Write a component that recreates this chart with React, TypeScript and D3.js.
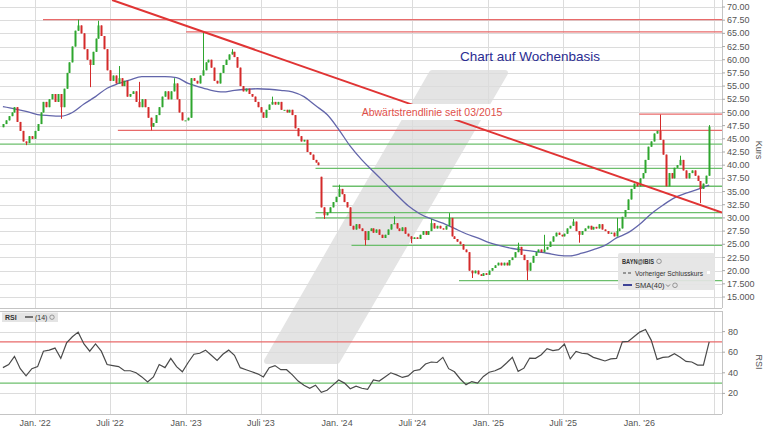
import { useEffect, useRef } from 'react';
import * as d3 from 'd3';

// Wochenkerzen BAYN, erste Kerze 15.10.2021
const firstWeek = new Date(2021, 9, 15);

const closes = [
  47.8, 48.5, 49.3, 50.0, 51.0, 48.2, 46.5, 44.5, 44.2, 45.5,
  45.0, 46.5, 47.8, 50.0, 52.0, 51.0, 52.5, 53.5, 52.0, 53.5,
  51.0, 54.5, 57.5, 59.5, 62.5, 65.5, 66.5, 65.0, 62.0, 60.0,
  59.0, 61.5, 64.0, 66.5, 64.5, 62.0, 58.0, 56.0, 57.0, 55.5,
  56.5, 55.0, 56.0, 53.0, 53.5, 54.0, 52.0, 51.0, 52.5, 51.0,
  49.0, 47.3, 48.0, 49.5, 51.0, 53.0, 54.0, 52.5, 54.0, 55.5,
  52.5, 50.0, 48.5, 48.5, 49.0, 56.5, 56.0, 55.5, 57.0, 58.0,
  59.5, 60.0, 58.5, 56.0, 55.5, 57.5, 59.0, 60.0, 61.0, 61.5,
  60.5, 58.5, 55.0, 54.0, 54.5, 53.5, 53.0, 52.0, 51.0, 50.0,
  49.0, 50.5, 51.5, 52.0, 51.5, 52.0, 50.5, 50.5, 50.0, 50.5,
  49.5, 47.0, 45.5, 44.5, 44.8, 42.5, 42.0, 41.0, 40.5, 40.0,
  32.0, 30.5, 31.0, 32.0, 33.0, 34.0, 35.5, 34.5, 33.0, 32.0,
  28.5, 27.8, 28.8, 28.0, 27.5, 25.8, 27.5, 28.0, 27.2, 27.8,
  26.8, 26.2, 26.8, 27.8, 28.8, 29.0, 28.0, 27.5, 28.2, 27.0,
  26.5, 26.0, 26.3, 26.0, 26.8, 27.5, 26.8, 27.5, 29.0, 28.0,
  28.5, 28.0, 27.8, 28.5, 30.0, 26.5, 26.0, 25.5, 25.0, 24.0,
  23.5, 20.0, 19.5, 20.0, 19.3, 19.0, 19.5, 19.2, 20.0, 20.5,
  21.0, 21.5, 21.0, 21.5, 21.0, 22.0, 22.5, 23.5, 24.5, 23.0,
  22.0, 20.0, 21.5, 22.8, 23.5, 24.0, 23.5, 24.0, 24.5, 25.5,
  26.5, 27.2, 26.8, 26.5, 27.0, 28.0, 28.5, 29.3, 27.5, 26.8,
  27.5, 28.0, 28.5, 27.8, 28.3, 28.0, 28.8, 27.8, 27.5, 27.0,
  27.2, 26.5, 27.5, 28.0, 30.2, 31.5, 33.5, 35.5, 36.5, 36.0,
  37.5, 38.5, 41.0, 43.5, 44.5, 46.0, 46.5, 44.8, 42.0, 36.0,
  38.5, 37.5, 39.5, 40.0, 41.0, 39.0, 37.5, 38.5, 39.0, 38.0,
  37.0, 35.5, 36.5, 38.0, 47.3,
];

// Eröffnungskurse mit Kurslücke (sonst Vorwochenschluss)
const openOverrides: Record<number, number> = { 0: 47.2, 110: 37.8 };

// auffällige Dochte
const wickHighs: Record<number, number> = {
  26: 67.6, 33: 67.4, 40: 58.8, 47: 55.8, 59: 56.5, 69: 65.3, 79: 62.0,
  93: 53.0, 116: 36.3, 135: 30.3, 148: 29.8, 154: 30.9, 178: 25.3,
  187: 26.8, 197: 29.8, 212: 30.0, 227: 49.6, 234: 41.8, 244: 47.6,
};
const wickLows: Record<number, number> = {
  8: 43.8, 20: 48.8, 30: 54.8, 51: 46.6, 111: 29.8, 125: 24.8, 141: 25.2,
  162: 18.6, 181: 18.2, 199: 25.3, 241: 32.8,
};

const sma40 = [
  51.1, 50.7, 50.2, 49.6, 49.4, 49.3, 50.0, 51.6, 53.0, 54.6,
  55.5, 56.2, 56.8, 56.8, 56.8, 56.6, 55.5, 54.8, 54.2, 53.9,
  54.2, 54.4, 54.5, 54.4, 54.2, 53.9, 53.0, 51.3, 49.6, 46.8,
  43.6, 41.0, 38.8, 36.6, 34.4, 32.3, 30.8, 29.8, 29.0, 28.0,
  27.0, 26.2, 25.3, 24.7, 24.2, 23.9, 23.6, 23.3, 22.9, 22.8,
  23.3, 24.0, 24.8, 26.2, 27.2, 28.8, 30.8, 32.4, 33.8, 34.7,
  35.4, 36.2,
];

const rsi14 = [
  45, 48, 56, 44, 37, 44, 46, 61, 62, 64,
  54, 69, 75, 79.5, 68, 61, 68, 61, 48, 47,
  46, 42, 42, 40, 36, 31, 36, 48, 45, 54,
  46, 41, 50, 58, 59, 62, 57, 52, 58, 62,
  57, 45, 43, 41, 39, 36, 45, 47, 43, 43,
  38, 32, 28, 25, 28, 21, 23, 28, 33, 30,
  24.5, 27, 25, 24, 33, 32, 36, 40, 38, 35.5,
  37, 42, 43, 48.5, 50.5, 50, 55, 44, 41, 34,
  28.5, 31.5, 30, 36.5, 40.5, 42, 44.5, 49.5, 55, 41.4,
  44.5, 54.3, 54, 57.5, 63.5, 61.5, 62.5, 68, 53.5, 60.7,
  59, 58.3, 55, 53.3, 51.5, 53.5, 54, 70, 70.5, 75,
  79.5, 82, 71.5, 53, 55, 55.5, 58.5, 55, 51, 50.5,
  47.5, 47.5, 70,
];

const priceTicks = [
  15, 17.5, 20, 22.5, 25, 27.5, 30, 32.5, 35, 37.5, 40, 42.5,
  45, 47.5, 50, 52.5, 55, 57.5, 60, 62.5, 65, 67.5, 70,
];
const priceTickLabels = [
  '15.000', '17.500', '20.00', '22.50', '25.00', '27.50', '30.00', '32.50',
  '35.00', '37.50', '40.00', '42.50', '45.00', '47.50', '50.00', '52.50',
  '55.00', '57.50', '60.00', '62.50', '65.00', '67.50', '70.00',
];
const rsiTicks = [20, 40, 60, 80];

const timeTicks = [
  '2022-01-01', '2022-07-01', '2023-01-01', '2023-07-01', '2024-01-01',
  '2024-07-01', '2025-01-01', '2025-07-01', '2026-01-01', '2026-07-01',
];
const timeTickLabels = [
  "Jan. '22", "Juli '22", "Jan. '23", "Juli '23", "Jan. '24",
  "Juli '24", "Jan. '25", "Juli '25", "Jan. '26", '',
];

const redLevels = [
  { from: '2022-01-20', value: 67.6 },
  { from: '2023-01-01', value: 65.3 },
  { from: '2022-07-20', value: 46.6 },
  { from: '2026-01-01', value: 49.7 },
];
const greenLevels = [
  { from: '2021-10-08', value: 44.0 },
  { from: '2023-11-10', value: 39.4 },
  { from: '2023-12-21', value: 36.0 },
  { from: '2023-11-10', value: 31.0 },
  { from: '2023-11-10', value: 30.0 },
  { from: '2024-02-05', value: 24.8 },
  { from: '2024-10-22', value: 18.1 },
];
const trendAnchors = [
  { date: '2022-07-06', value: 71.33 },
  { date: '2026-07-20', value: 31.0 },
];

const FONT = 'Liberation Sans, Arial, sans-serif';

export default function App() {
  const svgRef = useRef<SVGSVGElement>(null);

  useEffect(() => {
    if (!svgRef.current) return;
    const svg = d3.select(svgRef.current);
    svg.selectAll('*').remove();

    const parse = d3.timeParse('%Y-%m-%d');
    const plotRight = 722;
    const x = d3
      .scaleTime()
      .domain([new Date(2021, 9, 8), new Date(2026, 6, 20)])
      .range([0, plotRight]);
    const y = d3.scaleLinear().domain([15, 70]).range([297, 7]);
    const yr = d3.scaleLinear().domain([0, 100]).range([414, 311]);

    const dates = closes.map((_, i) => d3.timeDay.offset(firstWeek, 7 * i));

    svg.append('rect').attr('width', 768).attr('height', 432).attr('fill', '#fff');

    const defs = svg.append('defs');
    defs.append('clipPath').attr('id', 'clipP')
      .append('rect').attr('x', 0).attr('y', 0).attr('width', plotRight).attr('height', 308);
    defs.append('clipPath').attr('id', 'clipR')
      .append('rect').attr('x', 0).attr('y', 311).attr('width', plotRight).attr('height', 103);

    // Wasserzeichen
    svg.append('path')
      .attr('d', 'M432,73 L505,73 L337,361 L267,361 Z')
      .attr('fill', '#e4e4e4')
      .attr('stroke', '#e4e4e4')
      .attr('stroke-width', 6)
      .attr('stroke-linejoin', 'round');

    // Gitter
    const grid = svg.append('g').attr('stroke', '#dcdcdc').attr('stroke-width', 1)
      .attr('shape-rendering', 'crispEdges');
    priceTicks.forEach((v) => {
      grid.append('line').attr('x1', 0).attr('x2', plotRight)
        .attr('y1', Math.round(y(v)) + 0.5).attr('y2', Math.round(y(v)) + 0.5);
    });
    rsiTicks.forEach((v) => {
      grid.append('line').attr('x1', 0).attr('x2', plotRight)
        .attr('y1', Math.round(yr(v)) + 0.5).attr('y2', Math.round(yr(v)) + 0.5);
    });
    timeTicks.forEach((t) => {
      const xx = Math.round(x(parse(t)!)) + 0.5;
      grid.append('line').attr('x1', xx).attr('x2', xx).attr('y1', 0).attr('y2', 308);
      grid.append('line').attr('x1', xx).attr('x2', xx).attr('y1', 311).attr('y2', 414);
    });

    // Rahmen
    const frame = svg.append('g').attr('stroke', '#c4c4c4').attr('shape-rendering', 'crispEdges');
    frame.append('line').attr('x1', 0).attr('x2', plotRight).attr('y1', 308.5).attr('y2', 308.5);
    frame.append('line').attr('x1', 0).attr('x2', plotRight).attr('y1', 311.5).attr('y2', 311.5);
    frame.append('line').attr('x1', 0).attr('x2', plotRight).attr('y1', 414.5).attr('y2', 414.5);
    frame.append('line').attr('x1', plotRight + 0.5).attr('x2', plotRight + 0.5).attr('y1', 0).attr('y2', 308);
    frame.append('line').attr('x1', plotRight + 0.5).attr('x2', plotRight + 0.5).attr('y1', 311).attr('y2', 414);

    const pg = svg.append('g').attr('clip-path', 'url(#clipP)');

    // Unterstützungen / Widerstände
    greenLevels.forEach((l) => {
      pg.append('line')
        .attr('x1', x(parse(l.from)!)).attr('x2', plotRight)
        .attr('y1', y(l.value)).attr('y2', y(l.value))
        .attr('stroke', '#6cbf6c').attr('stroke-width', 1.3);
    });
    redLevels.forEach((l) => {
      pg.append('line')
        .attr('x1', x(parse(l.from)!)).attr('x2', plotRight)
        .attr('y1', y(l.value)).attr('y2', y(l.value))
        .attr('stroke', '#e86a6a').attr('stroke-width', 1.3);
    });

    // SMA(40)
    const smaPts = sma40.map((v, k) => [x(dates[k * 4]), y(v)] as [number, number]);
    pg.append('path')
      .attr('d', d3.line().curve(d3.curveMonotoneX)(smaPts))
      .attr('fill', 'none')
      .attr('stroke', '#6265aa')
      .attr('stroke-width', 1.3);

    // Kerzen
    const candles = closes.map((c, i) => {
      const o = openOverrides[i] ?? closes[i - 1];
      const hi = Math.max(o, c, wickHighs[i] ?? -Infinity);
      const lo = Math.min(o, c, wickLows[i] ?? Infinity);
      return { d: dates[i], o, c, hi, lo };
    });
    const cg = pg.append('g');
    cg.selectAll('line')
      .data(candles)
      .join('line')
      .attr('x1', (d) => Math.round(x(d.d)) + 0.5)
      .attr('x2', (d) => Math.round(x(d.d)) + 0.5)
      .attr('y1', (d) => y(d.hi))
      .attr('y2', (d) => y(d.lo))
      .attr('stroke', (d) => (d.c >= d.o ? '#2ea62e' : '#d42a2a'))
      .attr('stroke-width', 1);
    cg.selectAll('rect')
      .data(candles)
      .join('rect')
      .attr('x', (d) => Math.round(x(d.d)) - 0.5)
      .attr('width', 2)
      .attr('y', (d) => y(Math.max(d.o, d.c)))
      .attr('height', (d) => Math.max(1, Math.abs(y(d.o) - y(d.c))))
      .attr('fill', (d) => (d.c >= d.o ? '#2ea62e' : '#d42a2a'));

    // Abwärtstrendlinie
    const tl = trendAnchors.map((a) => [x(parse(a.date)!), y(a.value)] as [number, number]);
    pg.append('path')
      .attr('d', d3.line()(tl))
      .attr('stroke', '#e03434')
      .attr('stroke-width', 2)
      .attr('fill', 'none');
    pg.append('rect')
      .attr('x', 369).attr('y', 104).attr('width', 127).attr('height', 16)
      .attr('fill', '#fff');
    pg.append('text')
      .attr('x', 432).attr('y', 116)
      .attr('text-anchor', 'middle')
      .attr('font-family', FONT).attr('font-size', 10.5)
      .attr('fill', '#e0504a')
      .text('Abwärtstrendlinie seit 03/2015');

    pg.append('text')
      .attr('x', 530).attr('y', 61)
      .attr('text-anchor', 'middle')
      .attr('font-family', FONT).attr('font-size', 13.5)
      .attr('fill', '#2a2c92')
      .text('Chart auf Wochenbasis');

    // Legende Kurs
    const lg = svg.append('g').attr('transform', 'translate(618,253)')
      .attr('font-family', FONT).attr('font-size', 7.5).attr('fill', '#333');
    lg.append('rect').attr('width', 97).attr('height', 37).attr('rx', 2)
      .attr('fill', '#e4e4e4').attr('opacity', 0.92);
    lg.append('text').attr('x', 4).attr('y', 11).attr('font-weight', 'bold')
      .attr('textLength', 32).attr('lengthAdjust', 'spacingAndGlyphs').text('BAYN@IBIS');
    lg.append('circle').attr('cx', 41).attr('cy', 8.3).attr('r', 2.3)
      .attr('fill', 'none').attr('stroke', '#777').attr('stroke-width', 0.7);
    lg.append('line').attr('x1', 5).attr('x2', 14).attr('y1', 20).attr('y2', 20)
      .attr('stroke', '#444').attr('stroke-width', 1.2).attr('stroke-dasharray', '3,2');
    lg.append('text').attr('x', 17).attr('y', 23)
      .attr('textLength', 68).attr('lengthAdjust', 'spacingAndGlyphs').text('Vorheriger Schlusskurs');
    lg.append('rect').attr('x', 89).attr('y', 18).attr('width', 3).attr('height', 3).attr('fill', '#fff');
    lg.append('line').attr('x1', 5).attr('x2', 14).attr('y1', 32).attr('y2', 32)
      .attr('stroke', '#3e4496').attr('stroke-width', 2);
    lg.append('text').attr('x', 17).attr('y', 35).text('SMA(40)');
    lg.append('path').attr('d', 'M48,31.5 l2,2 l2,-2')
      .attr('fill', 'none').attr('stroke', '#666').attr('stroke-width', 0.8);
    lg.append('circle').attr('cx', 57).attr('cy', 32.3).attr('r', 2.3)
      .attr('fill', 'none').attr('stroke', '#777').attr('stroke-width', 0.7);

    // Kursachse
    const ax = svg.append('g').attr('font-family', FONT).attr('font-size', 9).attr('fill', '#555');
    priceTicks.forEach((v, k) => {
      ax.append('line').attr('x1', plotRight).attr('x2', plotRight + 3)
        .attr('y1', y(v)).attr('y2', y(v)).attr('stroke', '#aaa');
      ax.append('text').attr('x', plotRight + 5).attr('y', y(v)).attr('dy', '0.34em')
        .text(priceTickLabels[k]);
    });
    ax.append('text').attr('transform', 'translate(756,150) rotate(90)')
      .attr('text-anchor', 'middle').text('Kurs');

    // RSI-Panel
    const rg = svg.append('g').attr('clip-path', 'url(#clipR)');
    rg.append('line').attr('x1', 0).attr('x2', plotRight).attr('y1', yr(70)).attr('y2', yr(70))
      .attr('stroke', '#e86a6a').attr('stroke-width', 1.3);
    rg.append('line').attr('x1', 0).attr('x2', plotRight).attr('y1', yr(30)).attr('y2', yr(30))
      .attr('stroke', '#6cbf6c').attr('stroke-width', 1.3);
    const rsiPts = rsi14.map((v, k) => [x(dates[k * 2]), yr(v)] as [number, number]);
    rg.append('path')
      .attr('d', d3.line()(rsiPts))
      .attr('fill', 'none')
      .attr('stroke', '#4a4a4a')
      .attr('stroke-width', 1.2);

    const rl = svg.append('g').attr('font-family', FONT).attr('font-size', 7).attr('fill', '#333');
    rl.append('rect').attr('x', 2).attr('y', 312.5).attr('width', 56).attr('height', 9.5)
      .attr('fill', '#e4e4e4');
    rl.append('text').attr('x', 5).attr('y', 320).attr('font-weight', 'bold').text('RSI');
    rl.append('line').attr('x1', 25).attr('x2', 33).attr('y1', 317).attr('y2', 317)
      .attr('stroke', '#333').attr('stroke-width', 1.3);
    rl.append('text').attr('x', 35).attr('y', 320).text('(14)');
    rl.append('circle').attr('cx', 52).attr('cy', 317.2).attr('r', 2.2)
      .attr('fill', 'none').attr('stroke', '#777').attr('stroke-width', 0.7);

    rsiTicks.forEach((v) => {
      ax.append('line').attr('x1', plotRight).attr('x2', plotRight + 3)
        .attr('y1', yr(v)).attr('y2', yr(v)).attr('stroke', '#aaa');
      ax.append('text').attr('x', plotRight + 6).attr('y', yr(v)).attr('dy', '0.34em')
        .text(String(v));
    });
    ax.append('text').attr('transform', 'translate(756,362) rotate(90)')
      .attr('text-anchor', 'middle').text('RSI');

    // Zeitachse
    timeTicks.forEach((t, k) => {
      if (!timeTickLabels[k]) return;
      ax.append('text').attr('x', x(parse(t)!)).attr('y', 425.5)
        .attr('text-anchor', 'middle').text(timeTickLabels[k]);
    });
  }, []);

  return (
    <div style={{ position: 'absolute', left: 0, top: 0 }}>
      <svg ref={svgRef} width={768} height={432} style={{ display: 'block' }} />
    </div>
  );
}
